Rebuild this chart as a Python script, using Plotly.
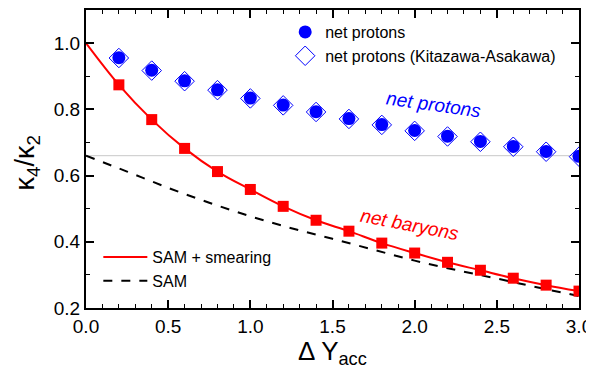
import plotly.graph_objects as go

# ---- data ----
x_pts = [0.2, 0.4, 0.6, 0.8, 1.0, 1.2, 1.4, 1.6, 1.8, 2.0, 2.2, 2.4, 2.6, 2.8, 3.0]
net_baryons = [0.874, 0.769, 0.682, 0.612, 0.558, 0.507, 0.465, 0.432, 0.396, 0.366,
               0.338, 0.314, 0.290, 0.269, 0.251]
net_protons = [0.956, 0.918, 0.886, 0.859, 0.834, 0.813, 0.793, 0.772, 0.754, 0.736,
               0.719, 0.703, 0.688, 0.673, 0.658]
net_protons_ka = [0.955, 0.917, 0.885, 0.858, 0.833, 0.812, 0.792, 0.771, 0.753, 0.735,
                  0.718, 0.702, 0.687, 0.672, 0.657]

x_smear = [0.0, 0.2, 0.4, 0.6, 0.8, 1.0, 1.2, 1.4, 1.6, 1.8, 2.0, 2.2, 2.4, 2.6, 2.8, 3.0]
sam_smearing = [1.0, 0.874, 0.769, 0.682, 0.612, 0.558, 0.507, 0.465, 0.432, 0.396, 0.366,
                0.338, 0.314, 0.290, 0.269, 0.251]

x_sam = [0.0, 0.25, 0.5, 0.75, 1.0, 1.25, 1.5, 1.75, 2.0, 2.25, 2.5, 2.75, 3.0]
sam = [0.660, 0.612, 0.563, 0.518, 0.477, 0.441, 0.409, 0.376, 0.343, 0.315, 0.289, 0.262, 0.236]

ref_level = 0.66

FONT = "Liberation Sans, Arial, sans-serif"
BLUE = "#0000ff"
RED = "#ff0000"

fig = go.Figure()

fig.add_hline(y=ref_level, line=dict(color="#c8c8c8", width=1), layer="below")

fig.add_trace(go.Scatter(x=x_smear, y=sam_smearing, mode="lines", name="SAM + smearing",
                         line=dict(color=RED, width=2, shape="spline"), legend="legend2"))
fig.add_trace(go.Scatter(x=x_sam, y=sam, mode="lines", name="SAM",
                         line=dict(color="black", width=2, dash="dash", shape="spline"),
                         legend="legend2"))
fig.add_trace(go.Scatter(x=x_pts, y=net_baryons, mode="markers", showlegend=False,
                         marker=dict(symbol="square", size=11, color=RED)))
fig.add_trace(go.Scatter(x=x_pts, y=net_protons, mode="markers", name="net protons",
                         legendgroup="a",
                         marker=dict(symbol="circle", size=13, color=BLUE)))
fig.add_trace(go.Scatter(x=x_pts, y=net_protons_ka, mode="markers",
                         name="net protons (Kitazawa-Asakawa)", legendgroup="b",
                         marker=dict(symbol="diamond-open", size=15, color=BLUE,
                                     line=dict(width=1, color=BLUE))))

fig.add_annotation(x=2.118, y=0.814, text="<i>net protons</i>", showarrow=False,
                   textangle=8, font=dict(family=FONT, size=19, color=BLUE))
fig.add_annotation(x=1.97, y=0.453, text="<i>net baryons</i>", showarrow=False,
                   textangle=11, font=dict(family=FONT, size=19, color=RED))

# axis titles
fig.add_annotation(xref="paper", yref="paper", x=-0.12, y=0.488, xanchor="center", yanchor="middle",
                   text="κ<sub>4</sub>/κ<sub>2</sub>", textangle=-90, showarrow=False,
                   borderpad=0, font=dict(family=FONT, size=27, color="black"))
fig.add_annotation(xref="paper", yref="paper", x=0.5, y=-0.088, xanchor="center", yanchor="top",
                   text="Δ Y<sub>acc</sub>", showarrow=False,
                   font=dict(family=FONT, size=26, color="black"))

axis_common = dict(showline=True, linecolor="black", linewidth=2, mirror="ticks",
                   ticks="inside", ticklen=8, tickwidth=1.5, tickcolor="black",
                   showgrid=False, zeroline=False, automargin=False,
                   tickfont=dict(family=FONT, size=19, color="black"))

fig.update_xaxes(range=[0, 3.0], dtick=0.5, tickformat=".1f",
                 minor=dict(dtick=0.1, ticks="inside", ticklen=4, tickcolor="black", tickwidth=1.2),
                 **axis_common)
fig.update_yaxes(range=[0.2, 1.1], tick0=0.2, dtick=0.2, tickformat=".1f",
                 minor=dict(dtick=0.1, ticks="inside", ticklen=4, tickcolor="black", tickwidth=1.2),
                 **axis_common)

fig.update_layout(
    width=586, height=368,
    margin=dict(l=78, r=15, t=1.5, b=68),
    plot_bgcolor="white", paper_bgcolor="white",
    font=dict(family=FONT, color="black"),
    legend=dict(x=0.404, y=0.983, xanchor="left", yanchor="top", bgcolor="rgba(0,0,0,0)",
                font=dict(family=FONT, size=16), tracegroupgap=0, traceorder="grouped"),
    legend2=dict(x=0.025, y=0.228, xanchor="left", yanchor="top", bgcolor="rgba(0,0,0,0)",
                 font=dict(family=FONT, size=16), itemwidth=44),
)

fig.write_html("out.html")
